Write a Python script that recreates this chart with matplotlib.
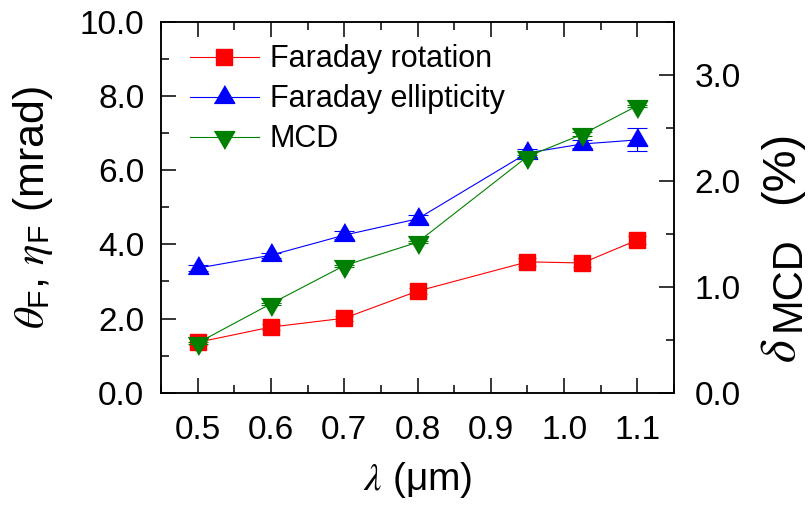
import matplotlib
matplotlib.use("Agg")
import matplotlib.pyplot as plt
from matplotlib.ticker import MultipleLocator, FormatStrFormatter

plt.rcParams['font.family'] = ['Liberation Sans', 'DejaVu Sans']
plt.rcParams['mathtext.fontset'] = 'custom'
plt.rcParams['mathtext.rm'] = 'Liberation Sans'
plt.rcParams['mathtext.it'] = 'STIXGeneral:italic'
plt.rcParams['mathtext.bf'] = 'Liberation Sans:bold'

# ---- data ----
wavelength = [0.5, 0.6, 0.7, 0.8, 0.95, 1.025, 1.1]
rotation = [1.36, 1.77, 2.01, 2.74, 3.53, 3.50, 4.12]
rotation_err = [0.08, 0.07, 0.07, 0.08, 0.10, 0.12, 0.12]
ellipticity = [3.36, 3.71, 4.25, 4.69, 6.47, 6.71, 6.82]
ellipticity_err = [0.08, 0.07, 0.10, 0.10, 0.10, 0.12, 0.31]
mcd = [0.47, 0.84, 1.20, 1.42, 2.23, 2.44, 2.71]
mcd_err = [0.01, 0.01, 0.01, 0.01, 0.01, 0.02, 0.01]
labels = ['Faraday rotation', 'Faraday ellipticity', 'MCD']
xticks = [0.5, 0.6, 0.7, 0.8, 0.9, 1.0, 1.1]

W, H = 812, 512
fig = plt.figure(figsize=(W / 100, H / 100), dpi=100)
ax = fig.add_axes([0.1983, 0.2330, 0.6318, 0.7240])
ax2 = ax.twinx()

TRI_UP = [(-1, -0.577), (1, -0.577), (0, 1.155)]
TRI_DN = [(-1, 0.577), (1, 0.577), (0, -1.155)]

lw = 0.8
ax.errorbar(wavelength, rotation, yerr=rotation_err, fmt='none', ecolor='red',
            elinewidth=0.8, capsize=6.5, capthick=0.8)
l1, = ax.plot(wavelength, rotation, color='red', lw=lw, marker='s', ms=11,
              mfc='red', mec='red')
ax.errorbar(wavelength, ellipticity, yerr=ellipticity_err, fmt='none', ecolor='blue',
            elinewidth=0.8, capsize=7.5, capthick=0.8)
l2, = ax.plot(wavelength, ellipticity, color='blue', lw=lw, marker=TRI_UP, ms=17,
              mfc='blue', mec='blue')
ax2.errorbar(wavelength, mcd, yerr=mcd_err, fmt='none', ecolor='green',
             elinewidth=0.8, capsize=7.5, capthick=0.8)
l3, = ax2.plot(wavelength, mcd, color='green', lw=lw, marker=TRI_DN, ms=17,
               mfc='green', mec='green')

ax.set_xlim(0.45, 1.15)
ax.set_ylim(0, 10)
ax2.set_ylim(0, 3.5)

ax.set_xticks(xticks)
ax.xaxis.set_minor_locator(MultipleLocator(0.05))
ax.yaxis.set_major_locator(MultipleLocator(2))
ax.yaxis.set_minor_locator(MultipleLocator(1))
ax2.yaxis.set_major_locator(MultipleLocator(1))
ax2.yaxis.set_minor_locator(MultipleLocator(0.5))
ax.xaxis.set_major_formatter(FormatStrFormatter('%.1f'))
ax.yaxis.set_major_formatter(FormatStrFormatter('%.1f'))
ax2.yaxis.set_major_formatter(FormatStrFormatter('%.1f'))

ax.tick_params(axis='x', which='both', direction='in', top=True, bottom=True,
               labelsize=24, pad=16, width=1.1)
ax.tick_params(axis='x', which='major', length=10.5)
ax.tick_params(axis='x', which='minor', length=5.5)
ax.tick_params(axis='y', which='both', direction='in', left=True, right=False,
               labelsize=24, pad=12, width=1.1)
ax.tick_params(axis='y', which='major', length=10.5)
ax.tick_params(axis='y', which='minor', length=5.5)
ax2.tick_params(axis='y', which='both', direction='in', right=True, left=False,
                labelsize=24, pad=15, width=1.1)
ax2.tick_params(axis='y', which='major', length=11)
ax2.tick_params(axis='y', which='minor', length=5.5)

for a in (ax, ax2):
    for s in a.spines.values():
        s.set_linewidth(1.1)

ax.set_xlabel(r'$\lambda$ (μm)', fontsize=28, labelpad=10)
ax.set_ylabel(r'$\theta_\mathrm{F}$, $\eta_\mathrm{F}$ (mrad)', fontsize=31)
ax.yaxis.set_label_coords(-0.207, 0.5)

# right axis label, composed of pieces (delta, MCD subscript, unit)
kw = dict(rotation=90, rotation_mode='anchor', ha='left', va='baseline')
fig.text(795 / W, 1 - 363 / H, r'$\delta$', fontsize=35, **kw)
fig.text(800 / W, 1 - 331 / H, 'MCD', fontsize=30, **kw)
fig.text(793 / W, 1 - 204 / H, '(%)', fontsize=34, **kw)

ax2.legend([l1, l2, l3], labels, loc='upper left', bbox_to_anchor=(0.0565, 0.94),
           frameon=False, fontsize=22, handlelength=2.25, handletextpad=0.36,
           labelspacing=0.33, borderaxespad=0, borderpad=0, numpoints=1)

fig.savefig('out.png', dpi=100)
